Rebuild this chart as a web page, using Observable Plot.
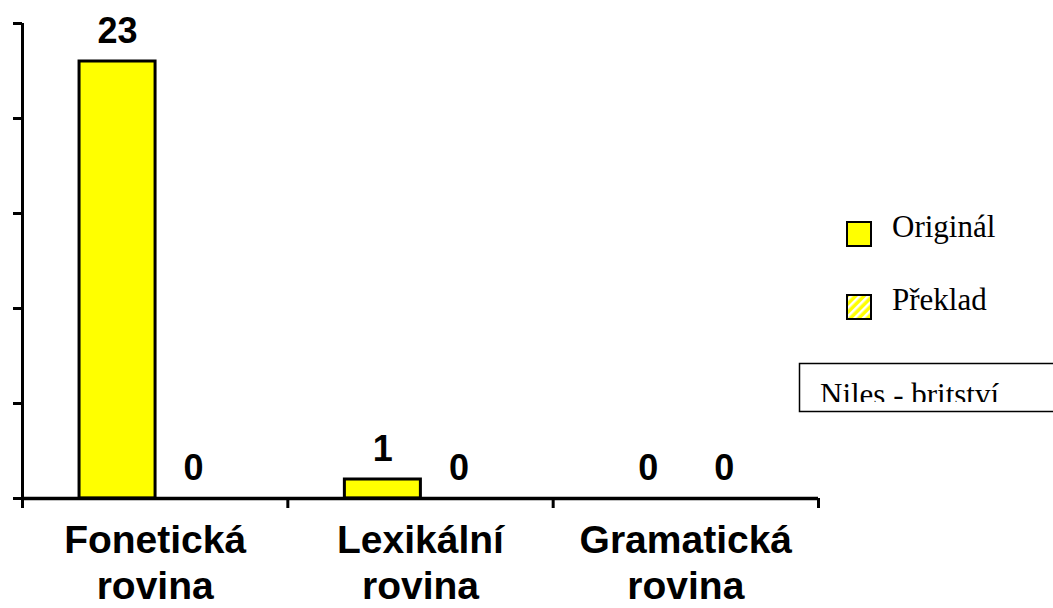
<!DOCTYPE html>
<html>
<head>
<meta charset="utf-8">
<script src="https://cdn.jsdelivr.net/npm/d3@7"></script>
<script src="https://cdn.jsdelivr.net/npm/@observablehq/plot@0.6"></script>
<style>
  html, body { margin: 0; padding: 0; background: #fff; }
  #wrap { position: relative; width: 1053px; height: 608px; overflow: hidden; }
  #legend { position: absolute; left: 0; top: 0; pointer-events: none; }
</style>
</head>
<body>
<div id="wrap"></div>
<script>
// Categories (language levels) and the two compared series
const categories = ["Fonetická\nrovina", "Lexikální\nrovina", "Gramatická\nrovina"];
const series = ["Originál", "Překlad"];
const originalValues = [23, 1, 0];
const translationValues = [0, 0, 0];
const yTicks = [0, 5, 10, 15, 20, 25];
const boxTitle = "Niles - britství";

// Layout of the two bars inside each category slot (fractions of a slot)
const slotPad = 0.215;
const barWidth = 0.2865;

const seriesValues = [originalValues, translationValues];
const table = [];
categories.forEach((cat, i) => {
  series.forEach((s, j) => {
    const x1 = i + slotPad + j * barWidth;
    table.push({cat, series: s, value: seriesValues[j][i], x1, x2: x1 + barWidth, xc: x1 + barWidth / 2});
  });
});

const sans = "'Liberation Sans', Arial, sans-serif";
const serif = "'Liberation Serif', 'Times New Roman', serif";

const chart = Plot.plot({
  width: 1053,
  height: 608,
  marginLeft: 22,
  marginRight: 235,
  marginTop: 23,
  marginBottom: 110,
  style: {fontFamily: sans, background: "white", overflow: "visible"},
  x: {type: "linear", domain: [0, categories.length], axis: null},
  y: {domain: [0, 25], axis: null},
  marks: [
    Plot.rectY(table, {
      x1: "x1", x2: "x2", y: "value",
      fill: "#FFFF00", stroke: "black", strokeWidth: 3
    }),
    Plot.axisY({ticks: yTicks, tickSize: 9, tickFormat: () => "", label: null, stroke: "black", strokeWidth: 3}),
    Plot.axisX({ticks: d3.range(categories.length + 1), tickSize: 10, tickFormat: () => "", label: null, stroke: "black", strokeWidth: 3}),
    Plot.ruleX([0], {stroke: "black", strokeWidth: 3}),
    Plot.ruleY([0], {stroke: "black", strokeWidth: 3.5}),
    Plot.text(categories, {
      x: (d, i) => i + 0.5, y: () => 0, text: d => d,
      lineAnchor: "top", dy: 22, lineHeight: 1.17,
      fontSize: 39, fontWeight: "bold", fill: "black"
    }),
    Plot.text(table, {
      x: "xc", y: "value", text: d => String(d.value),
      lineAnchor: "bottom", dy: -19,
      fontSize: 36, fontWeight: "bold", fill: "black"
    })
  ]
});

const wrap = document.getElementById("wrap");
wrap.appendChild(chart);

// Legend and the title box on the right side
const svg = d3.select(wrap).append("svg")
  .attr("id", "legend").attr("width", 1053).attr("height", 608);

const defs = svg.append("defs");
const pat = defs.append("pattern")
  .attr("id", "hatch").attr("patternUnits", "userSpaceOnUse")
  .attr("width", 6).attr("height", 6)
  .attr("patternTransform", "rotate(45)");
pat.append("rect").attr("width", 6).attr("height", 6).attr("fill", "#FFFF00");
pat.append("rect").attr("width", 2.5).attr("height", 6).attr("fill", "white");

const legendItems = [
  {label: series[0], fill: "#FFFF00", y: 222},
  {label: series[1], fill: "url(#hatch)", y: 295}
];
legendItems.forEach(d => {
  svg.append("rect").attr("x", 847).attr("y", d.y).attr("width", 24).attr("height", 24)
    .attr("fill", d.fill).attr("stroke", "black").attr("stroke-width", 2);
  svg.append("text").attr("x", 892).attr("y", d.y + 15).attr("font-family", serif)
    .attr("font-size", 31).attr("fill", "black").text(d.label);
});

defs.append("clipPath").attr("id", "boxclip")
  .append("rect").attr("x", 800).attr("y", 364).attr("width", 300).attr("height", 38);
svg.append("rect").attr("x", 799.5).attr("y", 363.5).attr("width", 300).attr("height", 48)
  .attr("fill", "white").attr("stroke", "black").attr("stroke-width", 1.5);
svg.append("text").attr("x", 820).attr("y", 405).attr("font-family", serif)
  .attr("font-size", 31).attr("fill", "black").attr("clip-path", "url(#boxclip)").text(boxTitle);
</script>
</body>
</html>
